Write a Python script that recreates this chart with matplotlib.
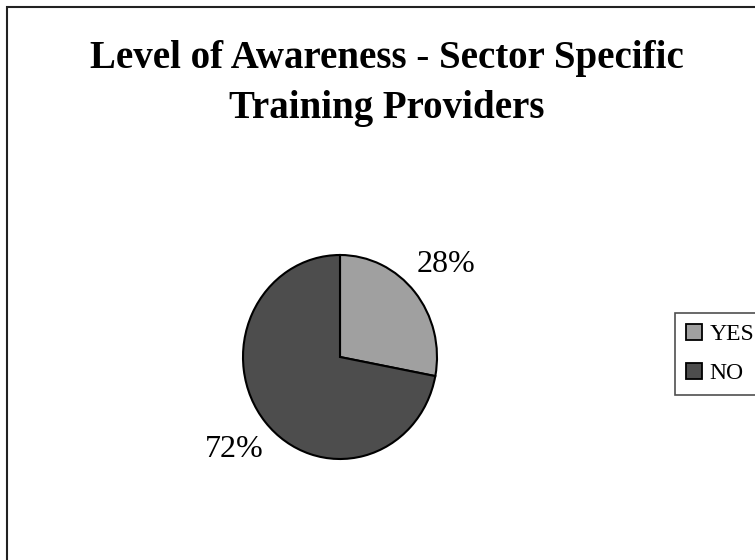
import matplotlib
matplotlib.use("Agg")
import matplotlib.pyplot as plt
from matplotlib.patches import Rectangle, Patch

title_lines = ["Level of Awareness - Sector Specific", "Training Providers"]
labels = ["YES", "NO"]
values = [28, 72]
colors = ["#a0a0a0", "#4d4d4d"]

plt.rcParams['font.family'] = ['Liberation Serif', 'DejaVu Serif']

W, H = 755, 560
fig = plt.figure(figsize=(W / 100, H / 100), dpi=100)
fig.patch.set_facecolor("white")

# chart area border (right and bottom edges fall outside the image)
fig.patches.append(Rectangle((7 / W, -0.05), 1.0, 1.05 - 7 / H, transform=fig.transFigure,
                             fill=False, edgecolor="#222222", linewidth=1.5))

# title, two lines
fig.text(387 / W, 1 - 68 / H, title_lines[0], ha="center", va="baseline",
         fontsize=28, fontweight="bold")
fig.text(387 / W, 1 - 118 / H, title_lines[1], ha="center", va="baseline",
         fontsize=28, fontweight="bold")

# pie: centre about (340, 357) px, radius ~97 x 102 px
ax = fig.add_axes([(340 - 97) / W, 1 - (357 + 102) / H, 194 / W, 204 / H])
wedges, texts, autotexts = ax.pie(values, colors=colors, startangle=90, counterclock=False,
                                  autopct="%d%%", pctdistance=1.42,
                                  wedgeprops=dict(edgecolor="black", linewidth=1.5))
for t in autotexts:
    t.set_fontsize(23)
ax.set_aspect("auto")
ax.set_xlim(-1, 1)
ax.set_ylim(-1, 1)

handles = [Patch(facecolor=c, edgecolor="black", linewidth=1.3, label=l)
           for c, l in zip(colors, labels)]
leg = fig.legend(handles=handles, loc="upper left", bbox_to_anchor=(675 / W, 1 - 313 / H),
                 borderaxespad=0, fontsize=17, frameon=True, fancybox=False,
                 handlelength=0.68, handleheight=0.68, handletextpad=0.34,
                 borderpad=0.45, labelspacing=0.75)
leg.get_frame().set_edgecolor("#222222")
leg.get_frame().set_linewidth(1.2)

fig.savefig("out.png", dpi=100)
